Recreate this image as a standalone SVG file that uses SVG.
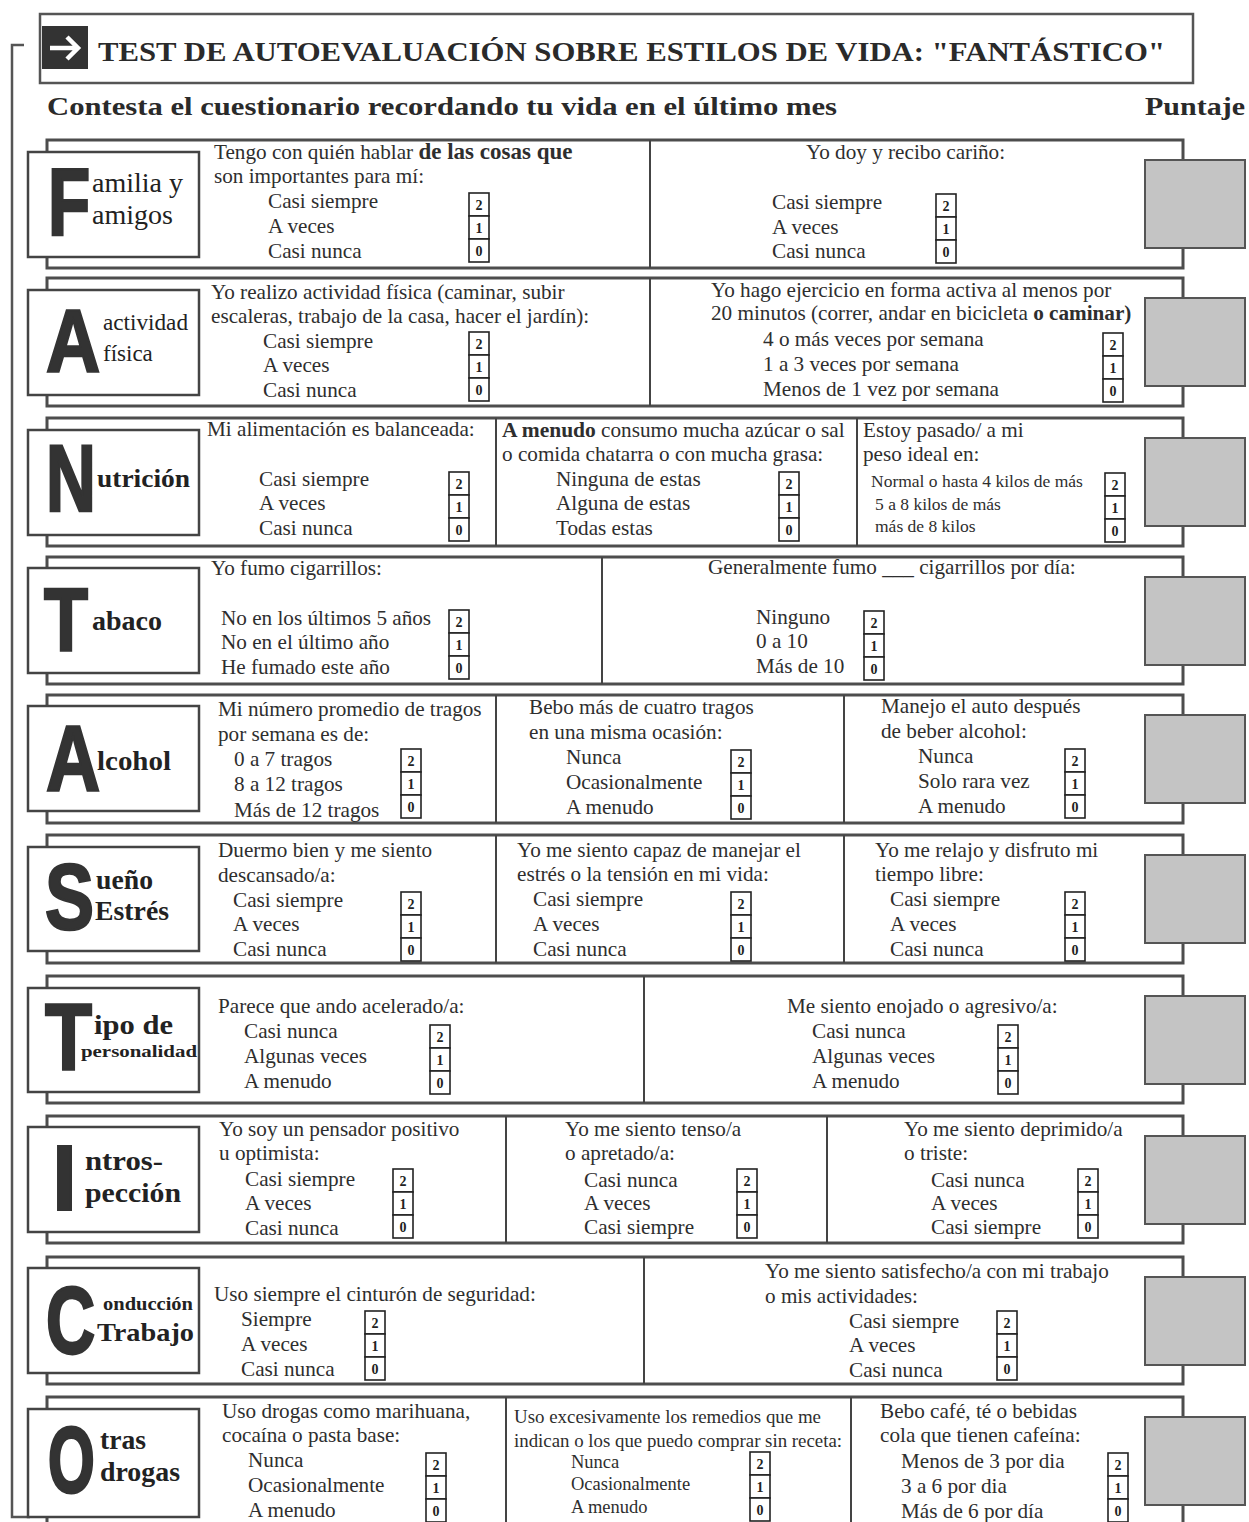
<svg xmlns="http://www.w3.org/2000/svg" xmlns:xlink="http://www.w3.org/1999/xlink" width="1249" height="1522" viewBox="0 0 1249 1522">
<style>
.frame{fill:#fff;stroke:#4d4d4d;stroke-width:3}
.lbl{fill:#fff;stroke:#444;stroke-width:2.5}
.score{fill:#c4c4c4;stroke:#555;stroke-width:2}
.dv{stroke:#444;stroke-width:2}
.cell{fill:#fff;stroke:#222;stroke-width:1.6}
.n{font-family:"Liberation Serif",serif;font-size:14px;font-weight:bold;text-anchor:middle;fill:#222}
.t{font-family:"Liberation Serif",serif;font-size:21.2px;fill:#2e2e2e}
.sm{font-size:18.8px}
.xs{font-size:17.5px}
.xo{font-size:18.5px}
.b{font-weight:bold}
.big{font-family:"Liberation Sans",sans-serif;font-weight:bold;fill:#333;stroke:#333;stroke-width:2}
.lw{font-family:"Liberation Serif",serif;fill:#222}
.ttl{font-family:"Liberation Serif",serif;font-size:27px;font-weight:bold;fill:#2a2a2a}
.sub{font-family:"Liberation Serif",serif;font-size:26px;font-weight:bold;fill:#2a2a2a}
.br{fill:none;stroke:#555;stroke-width:2.5}
</style>
<defs>
<g id="ck">
<rect class="cell" x="0" y="0" width="20" height="23"/>
<rect class="cell" x="0" y="23" width="20" height="23"/>
<rect class="cell" x="0" y="46" width="20" height="23"/>
<text class="n" x="10" y="17">2</text>
<text class="n" x="10" y="40">1</text>
<text class="n" x="10" y="63">0</text>
</g>
</defs>
<rect width="1249" height="1522" fill="#fff"/>

<g id="connectors">
<path class="br" d="M24,45 H12 V1517 H30"/>
</g>

<g id="title">
<rect x="40" y="14" width="1153" height="69" fill="#fff" stroke="#555" stroke-width="2.5"/>
<rect x="42" y="26" width="46" height="43" fill="#333"/>
<path d="M50,48 H78 M67,37 L78,48 L67,59" fill="none" stroke="#fff" stroke-width="4.5"/>
<text class="ttl" x="98" y="61" textLength="1067" lengthAdjust="spacingAndGlyphs">TEST DE AUTOEVALUACIÓN SOBRE ESTILOS DE VIDA: "FANTÁSTICO"</text>
</g>

<g id="subtitle">
<text class="sub" x="47" y="115" textLength="790" lengthAdjust="spacingAndGlyphs">Contesta el cuestionario recordando tu vida en el último mes</text>
<text class="sub" x="1145" y="115" textLength="100" lengthAdjust="spacingAndGlyphs">Puntaje</text>
</g>

<!-- Row F -->
<g id="row-familia">
<rect class="frame" x="47" y="140" width="1136" height="128"/>
<line class="dv" x1="650" y1="140" x2="650" y2="268"/>
<rect class="lbl" x="28" y="152" width="171" height="105"/>
<rect class="score" x="1145" y="160" width="100" height="88"/>
<text class="big" transform="translate(48,235) scale(1,1.37)" font-size="69">F</text>
<text class="lw" x="92" y="192" font-size="27" textLength="91" lengthAdjust="spacingAndGlyphs">amilia y</text>
<text class="lw" x="92" y="224" font-size="27" textLength="81" lengthAdjust="spacingAndGlyphs">amigos</text>
<text class="t" x="214" y="159">Tengo con  quién hablar <tspan class="b" font-size="23">de las cosas que</tspan></text>
<text class="t" x="214" y="183">son importantes para mí:</text>
<text class="t" x="268" y="208">Casi siempre</text>
<text class="t" x="268" y="233">A veces</text>
<text class="t" x="268" y="258">Casi nunca</text>
<use xlink:href="#ck" x="469" y="193"/>
<text class="t" x="806" y="159">Yo doy y recibo cariño:</text>
<text class="t" x="772" y="209">Casi siempre</text>
<text class="t" x="772" y="234">A veces</text>
<text class="t" x="772" y="258">Casi nunca</text>
<use xlink:href="#ck" x="936" y="194"/>
</g>

<!-- Row A actividad -->
<g id="row-actividad">
<rect class="frame" x="47" y="278" width="1136" height="128"/>
<line class="dv" x1="650" y1="278" x2="650" y2="406"/>
<rect class="lbl" x="28" y="290" width="171" height="105"/>
<rect class="score" x="1145" y="298" width="100" height="88"/>
<text class="big" transform="translate(46,372) scale(1,1.19)" font-size="75">A</text>
<text class="lw" x="103" y="330" font-size="23" textLength="85" lengthAdjust="spacingAndGlyphs">actividad</text>
<text class="lw" x="103" y="361" font-size="23">física</text>
<text class="t" x="211" y="299">Yo realizo actividad física (caminar, subir</text>
<text class="t" x="211" y="323">escaleras, trabajo de la casa, hacer el jardín):</text>
<text class="t" x="263" y="348">Casi siempre</text>
<text class="t" x="263" y="372">A veces</text>
<text class="t" x="263" y="397">Casi nunca</text>
<use xlink:href="#ck" x="469" y="332"/>
<text class="t" x="711" y="297">Yo hago ejercicio en forma activa al menos por</text>
<text class="t" x="711" y="320">20 minutos (correr, andar en bicicleta <tspan class="b">o caminar)</tspan></text>
<text class="t" x="763" y="346">4 o más veces por semana</text>
<text class="t" x="763" y="371">1 a 3 veces por semana</text>
<text class="t" x="763" y="396">Menos de 1 vez por semana</text>
<use xlink:href="#ck" x="1103" y="333"/>
</g>

<!-- Row N -->
<g id="row-nutricion">
<rect class="frame" x="47" y="418" width="1136" height="128"/>
<line class="dv" x1="496" y1="418" x2="496" y2="546"/>
<line class="dv" x1="857" y1="418" x2="857" y2="546"/>
<rect class="lbl" x="28" y="430" width="171" height="105"/>
<rect class="score" x="1145" y="438" width="100" height="88"/>
<text class="big" transform="translate(46,511) scale(1,1.37)" font-size="69">N</text>
<text class="lw b" x="97" y="487" font-size="26" textLength="93" lengthAdjust="spacingAndGlyphs">utrición</text>
<text class="t" x="207" y="436">Mi alimentación es balanceada:</text>
<text class="t" x="259" y="486">Casi siempre</text>
<text class="t" x="259" y="510">A veces</text>
<text class="t" x="259" y="535">Casi nunca</text>
<use xlink:href="#ck" x="449" y="472"/>
<text class="t" x="502" y="437"><tspan class="b" font-size="21.5">A menudo</tspan> consumo mucha azúcar o sal</text>
<text class="t" x="502" y="461">o comida chatarra o con mucha grasa:</text>
<text class="t" x="556" y="486">Ninguna de estas</text>
<text class="t" x="556" y="510">Alguna de estas</text>
<text class="t" x="556" y="535">Todas estas</text>
<use xlink:href="#ck" x="779" y="472"/>
<text class="t" x="863" y="437">Estoy pasado/ a mi</text>
<text class="t" x="863" y="461">peso ideal en:</text>
<text class="t xs" x="871" y="487">Normal o hasta 4 kilos de más</text>
<text class="t xs" x="875" y="510">5 a 8 kilos de más</text>
<text class="t xs" x="875" y="532">más de 8 kilos</text>
<use xlink:href="#ck" x="1105" y="473"/>
</g>

<!-- Row T tabaco -->
<g id="row-tabaco">
<rect class="frame" x="47" y="557" width="1136" height="127"/>
<line class="dv" x1="602" y1="557" x2="602" y2="684"/>
<rect class="lbl" x="28" y="568" width="171" height="105"/>
<rect class="score" x="1145" y="577" width="100" height="88"/>
<text class="big" transform="translate(44,650) scale(1,1.24)" font-size="72">T</text>
<text class="lw b" x="92" y="630" font-size="27" textLength="70" lengthAdjust="spacingAndGlyphs">abaco</text>
<text class="t" x="211" y="575">Yo fumo cigarrillos:</text>
<text class="t" x="221" y="625">No en los últimos 5 años</text>
<text class="t" x="221" y="649">No en el último año</text>
<text class="t" x="221" y="674">He fumado este año</text>
<use xlink:href="#ck" x="449" y="610"/>
<text class="t" x="708" y="574">Generalmente fumo ___ cigarrillos por día:</text>
<text class="t" x="756" y="624">Ninguno</text>
<text class="t" x="756" y="648">0 a 10</text>
<text class="t" x="756" y="673">Más de 10</text>
<use xlink:href="#ck" x="864" y="611"/>
</g>

<!-- Row A alcohol -->
<g id="row-alcohol">
<rect class="frame" x="47" y="695" width="1136" height="128"/>
<line class="dv" x1="496" y1="695" x2="496" y2="823"/>
<line class="dv" x1="844" y1="695" x2="844" y2="823"/>
<rect class="lbl" x="28" y="706" width="171" height="105"/>
<rect class="score" x="1145" y="715" width="100" height="88"/>
<text class="big" transform="translate(46,790) scale(1,1.23)" font-size="75">A</text>
<text class="lw b" x="97" y="770" font-size="27" textLength="74" lengthAdjust="spacingAndGlyphs">lcohol</text>
<text class="t" x="218" y="716">Mi número promedio de tragos</text>
<text class="t" x="218" y="741">por semana es de:</text>
<text class="t" x="234" y="766">0 a 7 tragos</text>
<text class="t" x="234" y="791">8 a 12 tragos</text>
<text class="t" x="234" y="817">Más de 12 tragos</text>
<use xlink:href="#ck" x="401" y="749"/>
<text class="t" x="529" y="714">Bebo más de cuatro tragos</text>
<text class="t" x="529" y="739">en una misma ocasión:</text>
<text class="t" x="566" y="764">Nunca</text>
<text class="t" x="566" y="789">Ocasionalmente</text>
<text class="t" x="566" y="814">A menudo</text>
<use xlink:href="#ck" x="731" y="750"/>
<text class="t" x="881" y="713">Manejo el auto después</text>
<text class="t" x="881" y="738">de beber alcohol:</text>
<text class="t" x="918" y="763">Nunca</text>
<text class="t" x="918" y="788">Solo rara vez</text>
<text class="t" x="918" y="813">A menudo</text>
<use xlink:href="#ck" x="1065" y="749"/>
</g>

<!-- Row S -->
<g id="row-sueno">
<rect class="frame" x="47" y="835" width="1136" height="128"/>
<line class="dv" x1="496" y1="835" x2="496" y2="963"/>
<line class="dv" x1="844" y1="835" x2="844" y2="963"/>
<rect class="lbl" x="28" y="847" width="171" height="104"/>
<rect class="score" x="1145" y="855" width="100" height="88"/>
<text class="big" transform="translate(45,929) scale(1,1.27)" font-size="73.5">S</text>
<text class="lw b" x="96" y="889" font-size="27" textLength="57" lengthAdjust="spacingAndGlyphs">ueño</text>
<text class="lw b" x="95" y="920" font-size="27" textLength="74" lengthAdjust="spacingAndGlyphs">Estrés</text>
<text class="t" x="218" y="857">Duermo bien y me siento</text>
<text class="t" x="218" y="882">descansado/a:</text>
<text class="t" x="233" y="907">Casi siempre</text>
<text class="t" x="233" y="931">A veces</text>
<text class="t" x="233" y="956">Casi nunca</text>
<use xlink:href="#ck" x="401" y="892"/>
<text class="t" x="517" y="857">Yo me siento capaz de manejar el</text>
<text class="t" x="517" y="881">estrés o la tensión en mi vida:</text>
<text class="t" x="533" y="906">Casi siempre</text>
<text class="t" x="533" y="931">A veces</text>
<text class="t" x="533" y="956">Casi nunca</text>
<use xlink:href="#ck" x="731" y="892"/>
<text class="t" x="875" y="857">Yo me relajo y disfruto mi</text>
<text class="t" x="875" y="881">tiempo libre:</text>
<text class="t" x="890" y="906">Casi siempre</text>
<text class="t" x="890" y="931">A veces</text>
<text class="t" x="890" y="956">Casi nunca</text>
<use xlink:href="#ck" x="1065" y="892"/>
</g>

<!-- Row T tipo -->
<g id="row-tipo">
<rect class="frame" x="47" y="976" width="1136" height="127"/>
<line class="dv" x1="644" y1="976" x2="644" y2="1103"/>
<rect class="lbl" x="28" y="988" width="171" height="104"/>
<rect class="score" x="1145" y="996" width="100" height="88"/>
<text class="big" transform="translate(45,1070) scale(1,1.24)" font-size="77">T</text>
<text class="lw b" x="94" y="1034" font-size="27" textLength="79" lengthAdjust="spacingAndGlyphs">ipo de</text>
<text class="lw b" x="81" y="1057" font-size="17" textLength="116" lengthAdjust="spacingAndGlyphs">personalidad</text>
<text class="t" x="218" y="1013">Parece que ando acelerado/a:</text>
<text class="t" x="244" y="1038">Casi nunca</text>
<text class="t" x="244" y="1063">Algunas veces</text>
<text class="t" x="244" y="1088">A menudo</text>
<use xlink:href="#ck" x="430" y="1025"/>
<text class="t" x="787" y="1013">Me siento enojado o agresivo/a:</text>
<text class="t" x="812" y="1038">Casi nunca</text>
<text class="t" x="812" y="1063">Algunas veces</text>
<text class="t" x="812" y="1088">A menudo</text>
<use xlink:href="#ck" x="998" y="1025"/>
</g>

<!-- Row I -->
<g id="row-introspeccion">
<rect class="frame" x="47" y="1116" width="1136" height="127"/>
<line class="dv" x1="506" y1="1116" x2="506" y2="1243"/>
<line class="dv" x1="827" y1="1116" x2="827" y2="1243"/>
<rect class="lbl" x="28" y="1127" width="171" height="105"/>
<rect class="score" x="1145" y="1136" width="100" height="88"/>
<text class="big" transform="translate(52,1210) scale(1,1.04)" font-size="90">I</text>
<text class="lw b" x="85" y="1170" font-size="27" textLength="78" lengthAdjust="spacingAndGlyphs">ntros-</text>
<text class="lw b" x="85" y="1202" font-size="27" textLength="96" lengthAdjust="spacingAndGlyphs">pección</text>
<text class="t" x="219" y="1136">Yo soy un pensador positivo</text>
<text class="t" x="219" y="1160">u optimista:</text>
<text class="t" x="245" y="1186">Casi siempre</text>
<text class="t" x="245" y="1210">A veces</text>
<text class="t" x="245" y="1235">Casi nunca</text>
<use xlink:href="#ck" x="393" y="1169"/>
<text class="t" x="565" y="1136">Yo me siento tenso/a</text>
<text class="t" x="565" y="1160">o apretado/a:</text>
<text class="t" x="584" y="1187">Casi nunca</text>
<text class="t" x="584" y="1210">A veces</text>
<text class="t" x="584" y="1234">Casi siempre</text>
<use xlink:href="#ck" x="737" y="1169"/>
<text class="t" x="904" y="1136">Yo me siento deprimido/a</text>
<text class="t" x="904" y="1160">o triste:</text>
<text class="t" x="931" y="1187">Casi nunca</text>
<text class="t" x="931" y="1210">A veces</text>
<text class="t" x="931" y="1234">Casi siempre</text>
<use xlink:href="#ck" x="1078" y="1169"/>
</g>

<!-- Row C -->
<g id="row-conduccion">
<rect class="frame" x="47" y="1257" width="1136" height="127"/>
<line class="dv" x1="644" y1="1257" x2="644" y2="1384"/>
<rect class="lbl" x="28" y="1268" width="171" height="105"/>
<rect class="score" x="1145" y="1277" width="100" height="88"/>
<text class="big" transform="translate(46,1353) scale(1,1.40)" font-size="68">C</text>
<text class="lw b" x="103" y="1310" font-size="18" textLength="90" lengthAdjust="spacingAndGlyphs">onducción</text>
<text class="lw b" x="97" y="1341" font-size="26" textLength="97" lengthAdjust="spacingAndGlyphs">Trabajo</text>
<text class="t" x="214" y="1301">Uso siempre el cinturón de seguridad:</text>
<text class="t" x="241" y="1326">Siempre</text>
<text class="t" x="241" y="1351">A veces</text>
<text class="t" x="241" y="1376">Casi nunca</text>
<use xlink:href="#ck" x="365" y="1311"/>
<text class="t" x="765" y="1278">Yo me siento satisfecho/a con mi trabajo</text>
<text class="t" x="765" y="1303">o mis actividades:</text>
<text class="t" x="849" y="1328">Casi siempre</text>
<text class="t" x="849" y="1352">A veces</text>
<text class="t" x="849" y="1377">Casi nunca</text>
<use xlink:href="#ck" x="997" y="1311"/>
</g>

<!-- Row O -->
<g id="row-otras-drogas">
<rect class="frame" x="47" y="1397" width="1136" height="140"/>
<line class="dv" x1="506" y1="1397" x2="506" y2="1530"/>
<line class="dv" x1="851" y1="1397" x2="851" y2="1530"/>
<rect class="lbl" x="28" y="1409" width="171" height="108"/>
<rect class="score" x="1145" y="1417" width="100" height="88"/>
<text class="big" transform="translate(48,1492) scale(1,1.56)" font-size="60">O</text>
<text class="lw b" x="100" y="1449" font-size="27" textLength="46" lengthAdjust="spacingAndGlyphs">tras</text>
<text class="lw b" x="100" y="1481" font-size="27" textLength="80" lengthAdjust="spacingAndGlyphs">drogas</text>
<text class="t" x="222" y="1418">Uso drogas como marihuana,</text>
<text class="t" x="222" y="1442">cocaína o pasta base:</text>
<text class="t" x="248" y="1467">Nunca</text>
<text class="t" x="248" y="1492">Ocasionalmente</text>
<text class="t" x="248" y="1517">A menudo</text>
<use xlink:href="#ck" x="426" y="1453"/>
<text class="t sm" x="514" y="1423" textLength="307" lengthAdjust="spacingAndGlyphs">Uso excesivamente los remedios que me</text>
<text class="t sm" x="514" y="1447" textLength="328" lengthAdjust="spacingAndGlyphs">indican o los que puedo comprar sin receta:</text>
<text class="t xo" x="571" y="1468">Nunca</text>
<text class="t xo" x="571" y="1490">Ocasionalmente</text>
<text class="t xo" x="571" y="1513">A menudo</text>
<use xlink:href="#ck" x="750" y="1452"/>
<text class="t" x="880" y="1418">Bebo café, té o bebidas</text>
<text class="t" x="880" y="1442">cola que tienen cafeína:</text>
<text class="t" x="901" y="1468">Menos de 3 por dia</text>
<text class="t" x="901" y="1493">3 a 6 por dia</text>
<text class="t" x="901" y="1518">Más de 6 por día</text>
<use xlink:href="#ck" x="1108" y="1453"/>
</g>
</svg>
